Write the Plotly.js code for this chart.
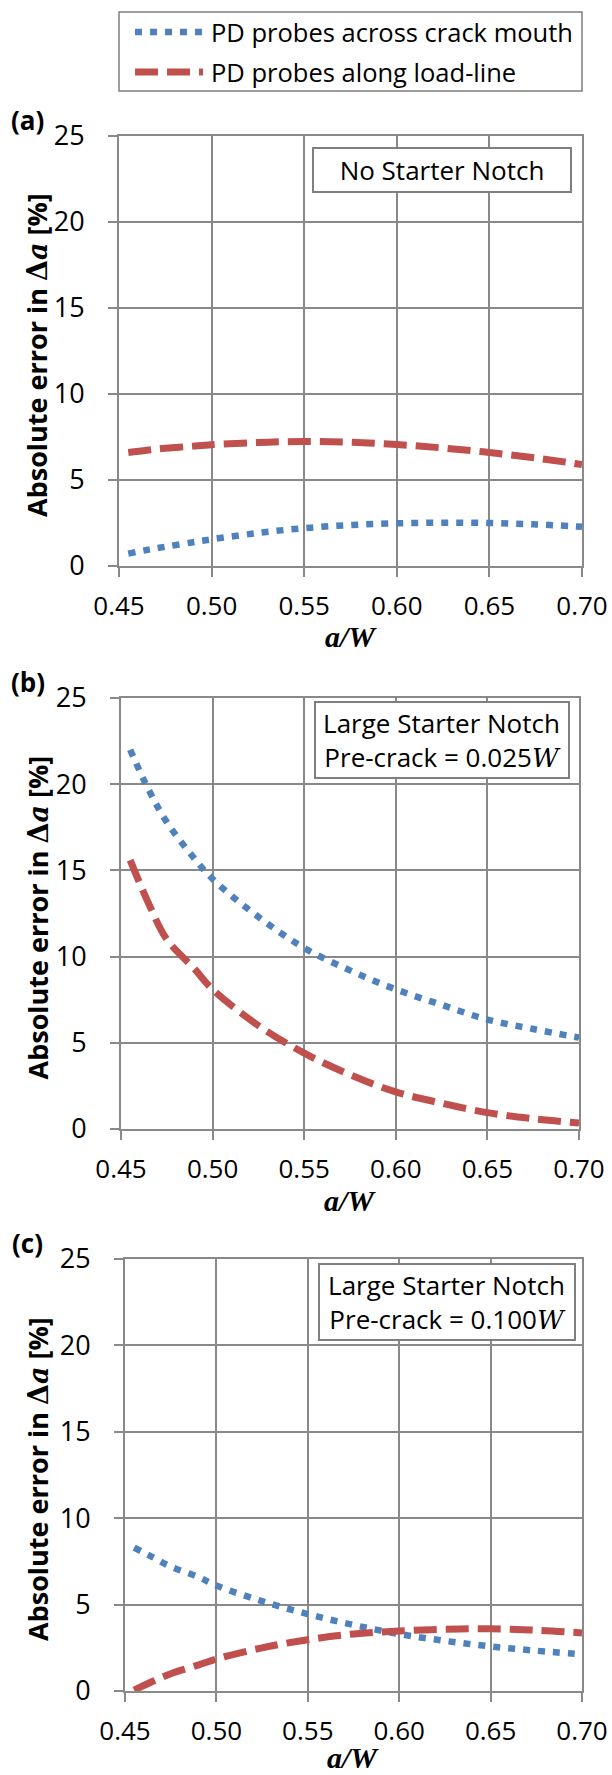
<!DOCTYPE html>
<html>
<head>
<meta charset="utf-8">
<script src="https://cdn.plot.ly/plotly-3.0.1.min.js"></script>
<style>html,body{margin:0;padding:0;background:#fff;}#chart{width:612px;height:1775px;}</style>
</head>
<body>
<div id="chart"></div>
<script>
// ---- data ----
const aW = [0.455, 0.465, 0.475, 0.49, 0.50, 0.525, 0.55, 0.575, 0.60, 0.625, 0.65, 0.675, 0.70];
const mouthA = [0.72, 0.93, 1.12, 1.38, 1.55, 1.92, 2.2, 2.38, 2.48, 2.52, 2.5, 2.42, 2.28];
const loadA  = [6.6, 6.73, 6.84, 6.97, 7.05, 7.18, 7.24, 7.2, 7.06, 6.86, 6.6, 6.28, 5.9];
const mouthB = [22.0, 19.7, 17.8, 15.7, 14.5, 12.3, 10.5, 9.2, 8.1, 7.2, 6.35, 5.8, 5.3];
const loadB  = [15.6, 13.1, 11.0, 9.3, 8.1, 6.0, 4.4, 3.15, 2.15, 1.5, 0.95, 0.6, 0.35];
const mouthC = [8.3, 7.75, 7.2, 6.6, 6.1, 5.2, 4.45, 3.82, 3.3, 2.9, 2.58, 2.33, 2.12];
const loadC  = [0.05, 0.55, 1.0, 1.5, 1.85, 2.5, 2.97, 3.3, 3.47, 3.57, 3.6, 3.52, 3.36];
const xTickVals = [0.45, 0.50, 0.55, 0.60, 0.65, 0.70];
const xTickText = ["0.45", "0.50", "0.55", "0.60", "0.65", "0.70"];
const yTickVals = [0, 5, 10, 15, 20, 25];
const seriesNames = ["PD probes across crack mouth", "PD probes along load-line"];
const panelLabels = ["(a)", "(b)", "(c)"];
const boxTexts = [
  "No Starter Notch",
  "Large Starter Notch<br>Pre-crack = 0.025<span style=\"font-family:'DejaVu Serif';font-style:italic\">W</span>",
  "Large Starter Notch<br>Pre-crack = 0.100<span style=\"font-family:'DejaVu Serif';font-style:italic\">W</span>"
];

// ---- styling / layout helpers ----
const W = 612, H = 1775;
const px = v => v / W;
const py = v => 1 - v / H;
const FONT = "Open Sans";
const BLUE = "#4F81BD", RED = "#C0504D", GRID = "#898989";
const blueLine = {color: BLUE, width: 6.5, dash: "7px,8px"};
const redLine = {color: RED, width: 7, dash: "23px,9px"};

// plot-area pixel boxes [left, right, top, bottom]
const boxes = [[119, 582, 136, 566], [121, 579, 698, 1129], [125, 582, 1259, 1691]];
const xTitleY = [637, 1200, 1757];
const annBoxes = [[442, 170], [441.5, 740], [447, 1302]];
const annSizes = [[254, 40], [250, 72], [252, 72]];
const mouthData = [mouthA, mouthB, mouthC];
const loadData = [loadA, loadB, loadC];

const traces = [];
const layout = {
  width: W, height: H,
  margin: {l: 0, r: 0, t: 0, b: 0},
  paper_bgcolor: "#fff", plot_bgcolor: "#fff",
  showlegend: false,
  font: {family: FONT, size: 25, color: "#000"},
  annotations: [], shapes: []
};

boxes.forEach((b, i) => {
  const s = i === 0 ? "" : String(i + 1);
  traces.push({x: aW, y: mouthData[i], xaxis: "x" + s, yaxis: "y" + s, type: "scatter", mode: "lines",
    name: seriesNames[0], line: Object.assign({shape: "spline"}, blueLine), hoverinfo: "skip"});
  traces.push({x: aW, y: loadData[i], xaxis: "x" + s, yaxis: "y" + s, type: "scatter", mode: "lines",
    name: seriesNames[1], line: Object.assign({shape: "spline"}, redLine), hoverinfo: "skip"});
  layout["xaxis" + s] = {
    domain: [px(b[0]), px(b[1])], anchor: "y" + s,
    range: [0.45, 0.70], tickvals: xTickVals, ticktext: xTickText,
    ticks: "outside", ticklen: 9, tickwidth: 2, tickcolor: GRID,
    showgrid: true, gridcolor: GRID, gridwidth: 2,
    showline: true, linecolor: GRID, linewidth: 2, mirror: true,
    zeroline: false, ticklabelstandoff: 7,
    tickfont: {family: FONT, size: 26, color: "#000"}
  };
  layout["yaxis" + s] = {
    domain: [py(b[3]), py(b[2])], anchor: "x" + s,
    range: [0, 25], tickvals: yTickVals,
    ticks: "outside", ticklen: 9, tickwidth: 2, tickcolor: GRID,
    showgrid: true, gridcolor: GRID, gridwidth: 2,
    showline: true, linecolor: GRID, linewidth: 2, mirror: true,
    zeroline: false, ticklabelstandoff: 18,
    tickfont: {family: FONT, size: 27, color: "#000"}
  };
  // y title
  layout.annotations.push({
    xref: "paper", yref: "paper", x: px(37), y: py((b[2] + b[3]) / 2 + 4),
    xanchor: "center", yanchor: "middle", textangle: -90, showarrow: false,
    text: "<b>Absolute error in </b><span style=\"font-family:'DejaVu Serif'\"><b>Δ</b><b><i>a</i></b></span><b> [%]</b>",
    font: {family: FONT, size: 27, color: "#000"}
  });
  // x title
  layout.annotations.push({
    xref: "paper", yref: "paper", x: px((b[0] + b[1]) / 2), y: py(xTitleY[i]),
    xanchor: "center", yanchor: "middle", showarrow: false,
    text: "<b><i>a</i></b><b><i>/</i></b><b><i>W</i></b>",
    font: {family: "Liberation Serif", size: 30, color: "#000"}
  });
  // panel label
  layout.annotations.push({
    xref: "paper", yref: "paper", x: px(28), y: py(b[2] - 16),
    xanchor: "center", yanchor: "middle", showarrow: false,
    text: "<b>" + panelLabels[i] + "</b>",
    font: {family: FONT, size: 26, color: "#000"}
  });
  // condition box
  layout.annotations.push({
    xref: "paper", yref: "paper", x: px(annBoxes[i][0]), y: py(annBoxes[i][1]),
    xanchor: "center", yanchor: "middle", showarrow: false,
    text: boxTexts[i], align: "center",
    width: annSizes[i][0], height: annSizes[i][1],
    bgcolor: "#fff", bordercolor: "#7f7f7f", borderwidth: 2, borderpad: 1,
    font: {family: FONT, size: 26, color: "#000"}
  });
});

// custom legend at top
layout.shapes.push({type: "rect", xref: "paper", yref: "paper",
  x0: px(119), x1: px(582), y0: py(12), y1: py(91),
  line: {color: "#7f7f7f", width: 1.5}, fillcolor: "#fff"});
layout.shapes.push({type: "line", xref: "paper", yref: "paper",
  x0: px(135), x1: px(203), y0: py(32), y1: py(32), line: blueLine});
layout.shapes.push({type: "line", xref: "paper", yref: "paper",
  x0: px(135), x1: px(203), y0: py(72), y1: py(72), line: redLine});
seriesNames.forEach((n, k) => {
  layout.annotations.push({xref: "paper", yref: "paper", x: px(209), y: py(k === 0 ? 32 : 72),
    xanchor: "left", yanchor: "middle", showarrow: false, text: n,
    font: {family: FONT, size: 25.5, color: "#000"}});
});

Plotly.newPlot("chart", traces, layout, {staticPlot: true, displayModeBar: false});
</script>
</body>
</html>
